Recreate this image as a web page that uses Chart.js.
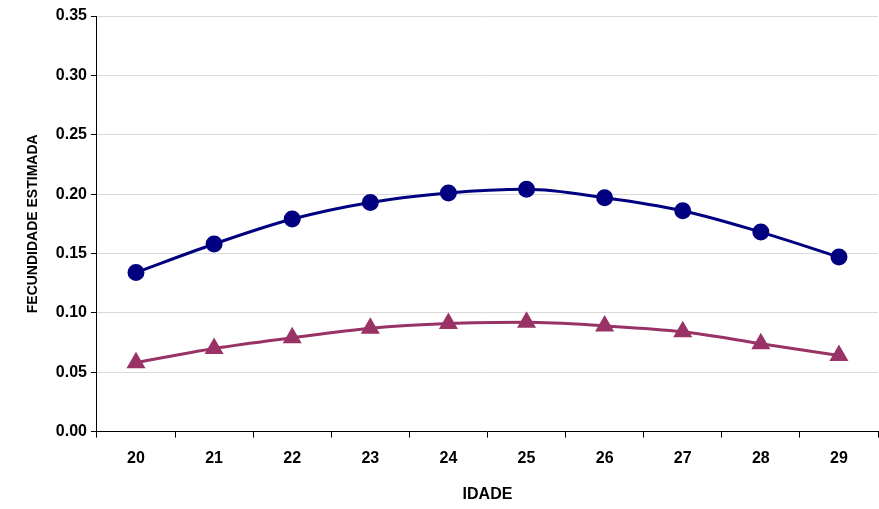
<!DOCTYPE html>
<html><head><meta charset="utf-8">
<script src="https://cdn.jsdelivr.net/npm/chart.js@4/dist/chart.umd.min.js"></script>
<style>html,body{margin:0;padding:0;background:#fff;overflow:hidden}#w{width:889px;height:509px}</style>
</head><body><div id="w"><canvas id="c"></canvas></div>
<script>
const categories=["20","21","22","23","24","25","26","27","28","29"];
const serieA=[0.134,0.158,0.179,0.193,0.201,0.204,0.197,0.186,0.168,0.147];
const serieB=[0.058,0.070,0.079,0.087,0.091,0.092,0.089,0.084,0.074,0.064];
const yTicks=[0,0.05,0.10,0.15,0.20,0.25,0.30,0.35];
const font={family:"Liberation Sans, Arial",weight:"bold",size:16};
new Chart(document.getElementById('c'),{
type:'line',
data:{labels:categories,datasets:[
{data:serieA,borderColor:'#000080',backgroundColor:'#000080',borderWidth:3,pointRadius:7,pointHoverRadius:7,pointStyle:'circle',cubicInterpolationMode:'monotone'},
{data:serieB,borderColor:'#993366',backgroundColor:'#993366',borderWidth:3,pointRadius:8,pointHoverRadius:8,pointStyle:'triangle',cubicInterpolationMode:'monotone'}]},
options:{responsive:true,maintainAspectRatio:false,animation:false,
layout:{padding:{top:16,right:0,left:21,bottom:1}},
plugins:{legend:{display:false},tooltip:{enabled:false}},
scales:{
x:{offset:true,grid:{offset:true,drawOnChartArea:false,color:'#000',tickLength:6},border:{color:'#000',width:1},
ticks:{font:font,color:'#000',padding:11},title:{display:true,text:'IDADE',font:font,color:'#000',padding:{top:6}}},
y:{min:0,max:0.35,afterBuildTicks:a=>{a.ticks=yTicks.map(v=>({value:v}));},
grid:{color:'#d9d9d9',tickColor:'#000',tickLength:6},border:{color:'#000',width:1},
ticks:{font:font,color:'#000',padding:4,callback:v=>v.toFixed(2)},
title:{display:true,text:'FECUNDIDADE ESTIMADA',font:{family:"Liberation Sans, Arial",weight:"bold",size:14},color:'#000',padding:{bottom:10}}}}}
});
</script></body></html>
